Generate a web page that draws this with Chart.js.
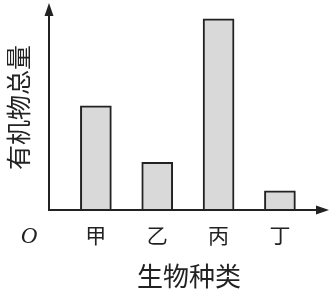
<!DOCTYPE html>
<html lang="zh">
<head>
<meta charset="UTF-8" />
<title>有机物总量</title>
<script src="https://cdn.jsdelivr.net/npm/chart.js"></script>
<style>
  html, body { margin: 0; padding: 0; background: #fff; }
  #wrap { width: 330px; height: 292px; }
</style>
</head>
<body>
<div id="wrap"><canvas id="chart" width="330" height="292"></canvas></div>
<script>
  // data (arbitrary units)
  const species = ["甲", "乙", "丙", "丁"];
  const positions = [1, 2, 3, 4];
  const amounts = [5.45, 2.5, 10, 1.0];
  const xTitle = "生物种类";
  const yTitle = "有机物总量";

  const ink = "#222";
  const cjk = "'Noto Sans CJK SC', sans-serif";

  // axis lines with arrow heads and the O at the origin
  const axesPlugin = {
    id: "axes",
    afterDraw(chart) {
      const { ctx, chartArea: a } = chart;
      ctx.save();
      ctx.strokeStyle = ink;
      ctx.fillStyle = ink;
      ctx.lineWidth = 2;
      ctx.beginPath();
      ctx.moveTo(a.left, a.bottom);
      ctx.lineTo(a.left, a.top + 4);
      ctx.moveTo(a.left - 1, a.bottom);
      ctx.lineTo(a.right - 4, a.bottom);
      ctx.stroke();
      // up arrow
      ctx.beginPath();
      ctx.moveTo(a.left, a.top - 2);
      ctx.lineTo(a.left - 4.5, a.top + 11);
      ctx.lineTo(a.left + 4.5, a.top + 11);
      ctx.closePath();
      ctx.fill();
      // right arrow
      ctx.beginPath();
      ctx.moveTo(a.right, a.bottom);
      ctx.lineTo(a.right - 13, a.bottom - 4.5);
      ctx.lineTo(a.right - 13, a.bottom + 4.5);
      ctx.closePath();
      ctx.fill();
      ctx.font = "italic 23px 'Liberation Serif', serif";
      ctx.textAlign = "center";
      ctx.textBaseline = "middle";
      ctx.fillText("O", a.left - 20, a.bottom + 27);
      ctx.restore();
    }
  };

  new Chart(document.getElementById("chart"), {
    type: "bar",
    data: {
      datasets: [{
        data: positions.map((p, i) => ({ x: p, y: amounts[i] })),
        backgroundColor: "#d9d9d9",
        borderColor: ink,
        borderWidth: 2,
        barThickness: 31
      }]
    },
    options: {
      responsive: false,
      animation: false,
      layout: { padding: { top: 5, right: 1, left: 0, bottom: 0 } },
      plugins: { legend: { display: false }, tooltip: { enabled: false } },
      scales: {
        x: {
          type: "linear",
          offset: false,
          min: 0.236,
          max: 4.8,
          grid: { display: false },
          border: { display: false },
          afterBuildTicks(s) { s.ticks = positions.map(v => ({ value: v })); },
          ticks: {
            includeBounds: false,
            autoSkip: false,
            maxRotation: 0,
            color: ink,
            font: { family: cjk, size: 21 },
            padding: 4,
            callback: v => species[positions.indexOf(v)] || ""
          },
          title: {
            display: true,
            text: xTitle,
            color: ink,
            font: { family: cjk, size: 26 },
            padding: { top: 0, bottom: 0 }
          },
          afterFit(s) { s.height = 82; }
        },
        y: {
          min: 0,
          max: 10.73,
          grid: { display: false },
          border: { display: false },
          ticks: { display: false },
          title: {
            display: true,
            text: yTitle,
            color: ink,
            font: { family: cjk, size: 25 },
            padding: { top: 3, bottom: 0 }
          },
          afterFit(s) { s.width = 49; }
        }
      }
    },
    plugins: [axesPlugin]
  });
</script>
</body>
</html>
